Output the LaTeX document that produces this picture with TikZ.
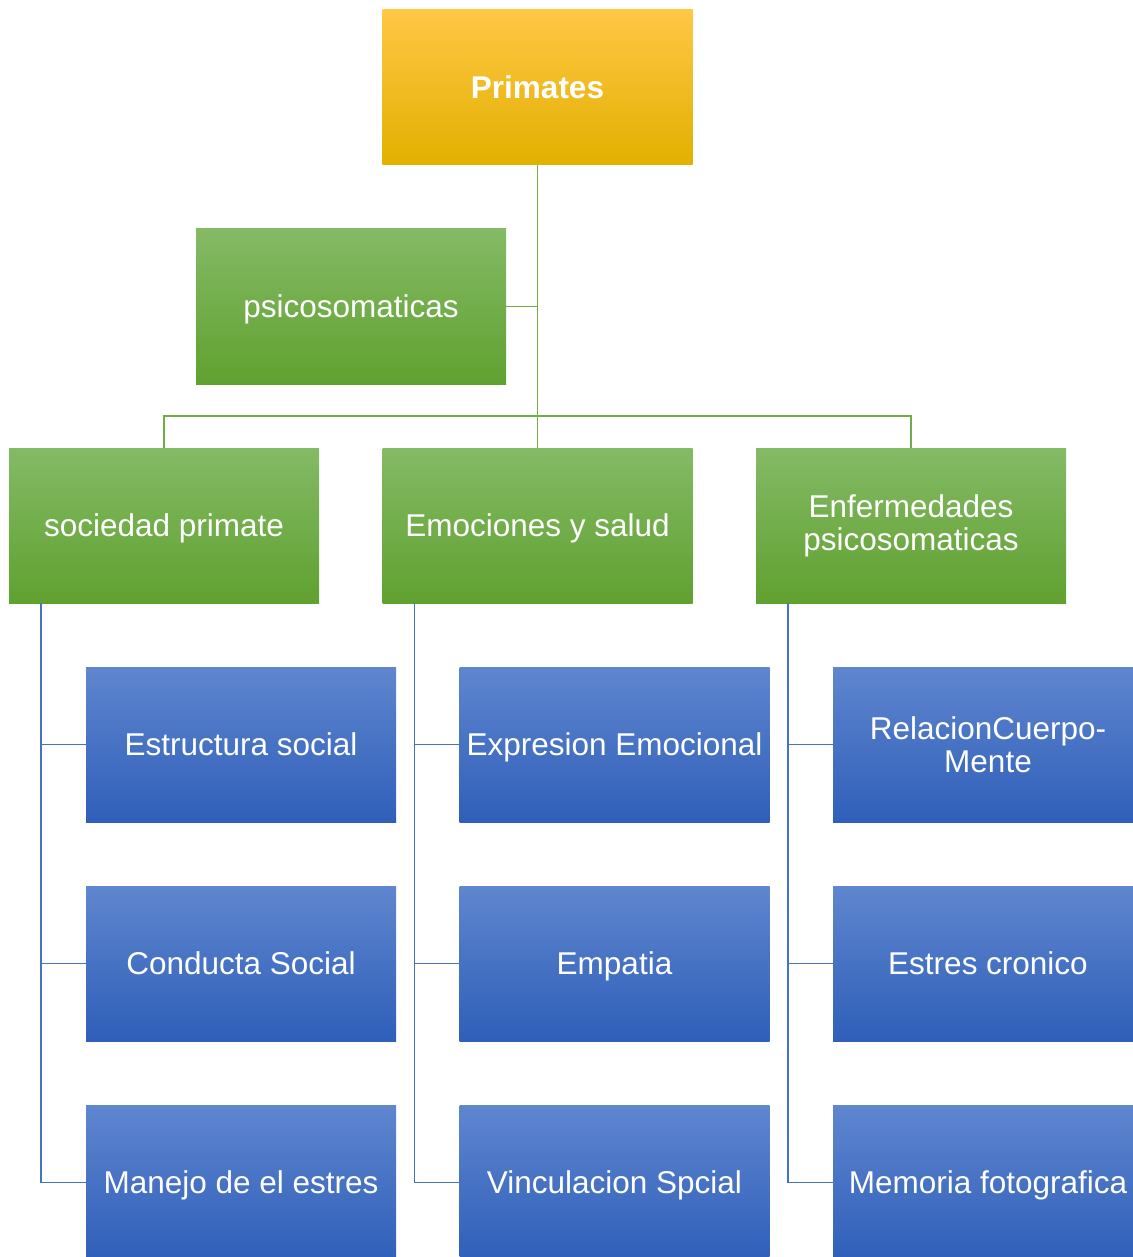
\documentclass[tikz,border=0pt]{standalone}
\usepackage{fontspec}
\setmainfont{Liberation Sans}
\definecolor{orT}{HTML}{FFC745}
\definecolor{orM}{HTML}{FFC000}
\definecolor{orB}{HTML}{E2B000}
\definecolor{grT}{HTML}{84BA65}
\definecolor{grM}{HTML}{6FAD45}
\definecolor{grB}{HTML}{60A130}
\definecolor{blT}{HTML}{5F86CF}
\definecolor{blM}{HTML}{4472C4}
\definecolor{blB}{HTML}{2F5FB9}
\definecolor{grLine}{HTML}{70AD47}
\definecolor{blLine}{HTML}{4472C4}
\begin{document}
\begin{tikzpicture}[x=1pt,y=-1pt,
  box/.style={rectangle, minimum width=310pt, minimum height=155pt, inner sep=0pt,
    text=white, align=center, font=\fontsize{31.5}{33}\selectfont,
    text height=22.6pt, text depth=0pt},
  twoline/.style={text height={}, text depth={}},
  topbox/.style={box, top color=orT, middle color=orM, bottom color=orB, font=\fontsize{31.5}{33}\selectfont\bfseries},
  greenbox/.style={box, top color=grT, middle color=grM, bottom color=grB},
  bluebox/.style={box, top color=blT, middle color=blM, bottom color=blB},
  gline/.style={draw=grLine, line width=1.5pt},
  bline/.style={draw=blLine, line width=1.5pt}]
\useasboundingbox (0,0) rectangle (1132,1257);
\fill[white] (0,0) rectangle (1132,1257);
% nodes
\node[topbox] (prim) at (537.5,87.5) {Primates};
\node[greenbox] (psi) at (351,306.5) {psicosomaticas};
\node[greenbox] (soc) at (164,525.5) {sociedad primate};
\node[greenbox] (emo) at (537.5,525.5) {Emociones y salud};
\node[greenbox, twoline] (enf) at (911,525.5) {Enfermedades\\psicosomaticas};
\node[bluebox] (a1) at (241,744.5) {Estructura social};
\node[bluebox] (a2) at (241,963.5) {Conducta Social};
\node[bluebox] (a3) at (241,1182.5) {Manejo de el estres};
\node[bluebox] (b1) at (614.5,744.5) {Expresion Emocional};
\node[bluebox] (b2) at (614.5,963.5) {Empatia};
\node[bluebox] (b3) at (614.5,1182.5) {Vinculacion Spcial};
\node[bluebox, twoline] (c1) at (988,744.5) {RelacionCuerpo-\\Mente};
\node[bluebox] (c2) at (988,963.5) {Estres cronico};
\node[bluebox] (c3) at (988,1182.5) {Memoria fotografica};
% green connectors
\coordinate (j) at (537.5,416);
\draw[gline] (prim.south) -- (j);
\draw[gline] (psi.east) -- (psi.east -| prim.south);
\draw[gline] (soc.north) |- (j) -| (enf.north);
\draw[gline] (j) -- (emo.north);
% blue connectors
\coordinate (sa) at ([xshift=32pt]soc.south west);
\coordinate (sb) at ([xshift=32pt]emo.south west);
\coordinate (sc) at ([xshift=32pt]enf.south west);
\draw[bline] (sa) |- (a3.west);
\draw[bline] (a1.west) -- (a1.west -| sa);
\draw[bline] (a2.west) -- (a2.west -| sa);
\draw[bline] (sb) |- (b3.west);
\draw[bline] (b1.west) -- (b1.west -| sb);
\draw[bline] (b2.west) -- (b2.west -| sb);
\draw[bline] (sc) |- (c3.west);
\draw[bline] (c1.west) -- (c1.west -| sc);
\draw[bline] (c2.west) -- (c2.west -| sc);
\end{tikzpicture}
\end{document}
